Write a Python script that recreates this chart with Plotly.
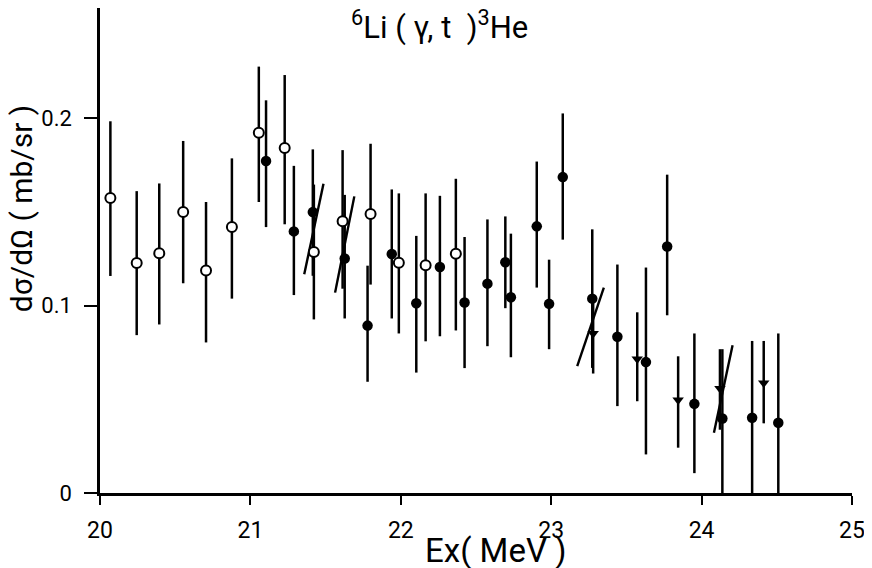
import plotly.graph_objects as go

# open circles
open_x = [20.069, 20.244, 20.394, 20.553, 20.705, 20.877, 21.056, 21.228, 21.422,
          21.613, 21.799, 21.987, 22.165, 22.366]
open_y = [0.1575, 0.1228, 0.128, 0.150, 0.1188, 0.142, 0.1924, 0.1842, 0.1287,
          0.1451, 0.149, 0.123, 0.1216, 0.1278]
open_up = [0.041, 0.0384, 0.0373, 0.038, 0.0366, 0.0367, 0.0353, 0.039, 0.036,
           0.038, 0.0375, 0.037, 0.0384, 0.040]
open_dn = [0.0416, 0.0385, 0.038, 0.038, 0.0384, 0.0382, 0.037, 0.0407, 0.036,
           0.036, 0.0377, 0.0378, 0.0406, 0.041]

# filled circles
full_x = [21.104, 21.289, 21.415, 21.627, 21.779, 21.940, 22.103, 22.260, 22.424,
          22.576, 22.695, 22.732, 22.904, 22.986, 23.077, 23.273, 23.440, 23.630,
          23.771, 23.952, 24.138, 24.336, 24.510]
full_y = [0.1773, 0.1397, 0.150, 0.1252, 0.0894, 0.1276, 0.1013, 0.1207, 0.1017,
          0.1118, 0.1232, 0.1045, 0.1424, 0.101, 0.1687, 0.1038, 0.0834, 0.0699,
          0.1316, 0.0476, 0.0398, 0.0402, 0.0375]
full_up = [0.0324, 0.035, 0.0335, 0.034, 0.032, 0.0345, 0.036, 0.038, 0.035,
           0.0343, 0.0245, 0.034, 0.0346, 0.0236, 0.034, 0.037, 0.0386, 0.0505,
           0.0384, 0.0376, 0.037, 0.041, 0.0477]
full_dn = [0.0353, 0.034, 0.034, 0.032, 0.030, 0.0344, 0.037, 0.037, 0.035,
           0.0334, 0.0245, 0.032, 0.0327, 0.0242, 0.0334, 0.037, 0.037, 0.0493,
           0.0367, 0.037, 0.0398, 0.0402, 0.0375]

# downward triangles
tri_x = [23.279, 23.572, 23.844, 24.122, 24.413]
tri_y = [0.0852, 0.0715, 0.0496, 0.0558, 0.0588]
tri_up = [0.020, 0.025, 0.0234, 0.021, 0.0224]
tri_dn = [0.0214, 0.0225, 0.0254, 0.022, 0.0216]

# slanted connecting strokes (start, end)
slant_x0 = [21.358, 21.563, 23.173, 24.082]
slant_y0 = [0.1168, 0.107, 0.0677, 0.0322]
slant_x1 = [21.486, 21.691, 23.350, 24.206]
slant_y1 = [0.1652, 0.1584, 0.1097, 0.0789]

x_ticks = [20, 21, 22, 23, 24, 25]
y_ticks = [0, 0.1, 0.2]
y_tick_text = ["0", "0.1", "0.2"]

FONT = "Roboto, Liberation Sans, sans-serif"


def err(up, dn):
    return dict(type="data", symmetric=False, array=up, arrayminus=dn,
                color="black", thickness=2.5, width=0, visible=True)


sx, sy = [], []
for a, b, c, d in zip(slant_x0, slant_y0, slant_x1, slant_y1):
    sx += [a, c, None]
    sy += [b, d, None]

fig = go.Figure()
fig.add_trace(go.Scatter(x=sx, y=sy, mode="lines",
                         line=dict(color="black", width=2.4), showlegend=False))
fig.add_trace(go.Scatter(x=full_x, y=full_y, mode="markers", error_y=err(full_up, full_dn),
                         marker=dict(symbol="circle", size=10.5, color="black"),
                         showlegend=False))
fig.add_trace(go.Scatter(x=tri_x, y=tri_y, mode="markers", error_y=err(tri_up, tri_dn),
                         marker=dict(symbol="triangle-down", size=10, color="black"),
                         showlegend=False))
fig.add_trace(go.Scatter(x=open_x, y=open_y, mode="markers", error_y=err(open_up, open_dn),
                         marker=dict(symbol="circle", size=10, color="white",
                                     line=dict(color="black", width=2)),
                         showlegend=False))

# page body has an 8px margin, so the figure is sized/shifted for it
fig.update_layout(
    width=864,
    height=560,
    margin=dict(l=92, r=20, t=0, b=75),
    paper_bgcolor="white",
    plot_bgcolor="white",
    font=dict(family=FONT, color="black"),
    xaxis=dict(
        range=[20, 25],
        tickvals=x_ticks,
        ticks="outside",
        ticklen=9,
        tickwidth=2,
        tickcolor="black",
        showline=True,
        linecolor="black",
        linewidth=2.5,
        showgrid=False,
        zeroline=False,
        automargin=False,
        ticklabeloverflow="allow",
        ticklabelstandoff=6,
        tickfont=dict(size=23, family=FONT),
    ),
    yaxis=dict(
        range=[0, 0.259],
        tickvals=y_ticks,
        ticktext=y_tick_text,
        ticks="outside",
        ticklen=13,
        tickwidth=2,
        tickcolor="black",
        showline=True,
        linecolor="black",
        linewidth=2.5,
        showgrid=False,
        zeroline=False,
        automargin=False,
        ticklabelstandoff=8,
        tickfont=dict(size=22, family=FONT),
    ),
    annotations=[
        dict(text="<sup>6</sup>Li ( γ, t  )<sup>3</sup>He", x=22.26, y=0.2495,
             xref="x", yref="y", xanchor="center", yanchor="middle",
             showarrow=False, font=dict(size=31, family=FONT)),
        dict(text="Ex( MeV )", x=22.63, y=-0.118, xref="x", yref="paper",
             xanchor="center", yanchor="middle",
             showarrow=False, font=dict(size=33, family=FONT)),
        dict(text="dσ/dΩ ( mb/sr )", x=-0.104, y=0.152, xref="paper", yref="y",
             xanchor="center", yanchor="middle",
             textangle=-90, showarrow=False, font=dict(size=30, family=FONT)),
    ],
)

fig.write_html("out.html")
